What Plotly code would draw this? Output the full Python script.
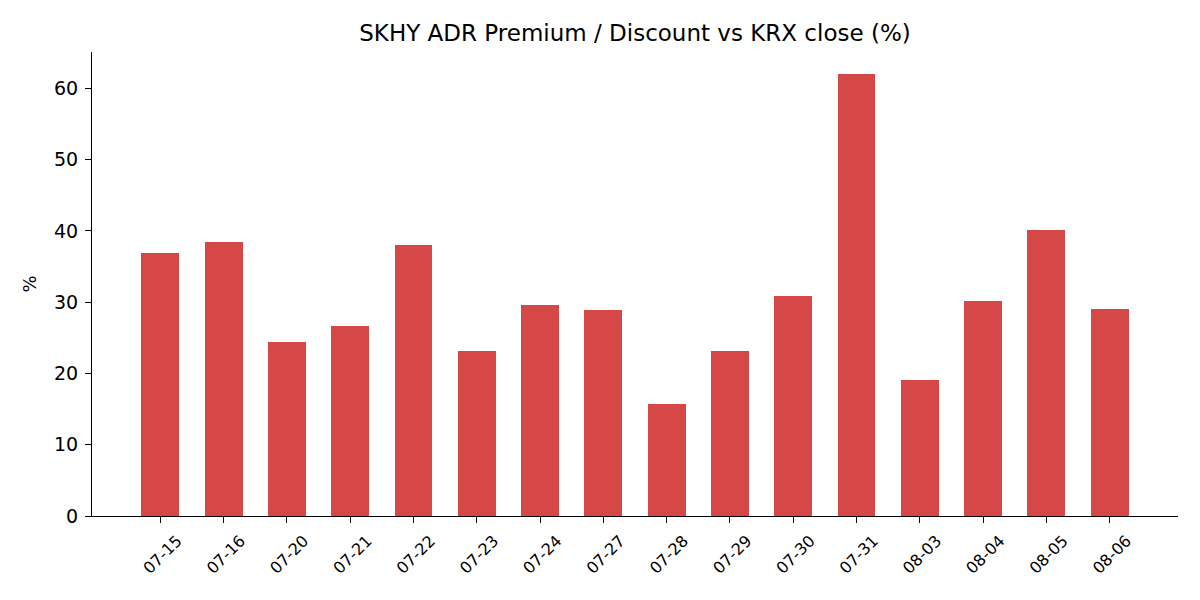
import plotly.graph_objects as go

dates = ["07-15", "07-16", "07-20", "07-21", "07-22", "07-23", "07-24", "07-27",
         "07-28", "07-29", "07-30", "07-31", "08-03", "08-04", "08-05", "08-06"]
premium = [36.87, 38.41, 24.39, 26.64, 38.0, 23.13, 29.58, 28.88,
           15.70, 23.13, 30.84, 61.97, 19.07, 30.14, 40.10, 29.02]

fig = go.Figure()
fig.add_trace(go.Bar(
    x=list(range(len(dates))), y=premium, width=0.6,
    marker=dict(color="rgb(214,71,71)", line=dict(width=0)),
    showlegend=False,
))

font = "DejaVu Sans, Liberation Sans, sans-serif"
# page is offset by 8px body margin; plot area targets x 92..1178, y 52..516
L, R, T, B = 84, 30, 44, 92
fig.update_layout(
    width=1200, height=600,
    margin=dict(l=L, r=R, t=T, b=B),
    paper_bgcolor="white", plot_bgcolor="white",
    font=dict(family=font, color="black"),
    title=dict(text="SKHY ADR Premium / Discount vs KRX close (%)",
               x=(L + (1200 - R)) / 2 / 1200, xanchor="center",
               y=1 - 25 / 600, yanchor="middle",
               font=dict(size=23, family=font)),
    bargap=0,
)
fig.update_xaxes(
    tickmode="array", tickvals=list(range(len(dates))), ticktext=dates,
    tickangle=-45, tickfont=dict(size=16),
    ticklabelshift=17, ticklabelstandoff=2,
    range=[-1.08, 16.08], showgrid=False, zeroline=False,
    showline=True, linecolor="black", linewidth=1.2,
    ticks="outside", ticklen=6, tickcolor="black",
)
fig.update_yaxes(
    range=[0, 65.1], tickvals=[0, 10, 20, 30, 40, 50, 60],
    tickfont=dict(size=19), showgrid=False, zeroline=False,
    showline=True, linecolor="black", linewidth=1.2,
    ticks="outside", ticklen=6, tickcolor="black", ticklabelstandoff=3,
    title=dict(text="%", font=dict(size=18), standoff=12),
)

fig.write_html("out.html")
